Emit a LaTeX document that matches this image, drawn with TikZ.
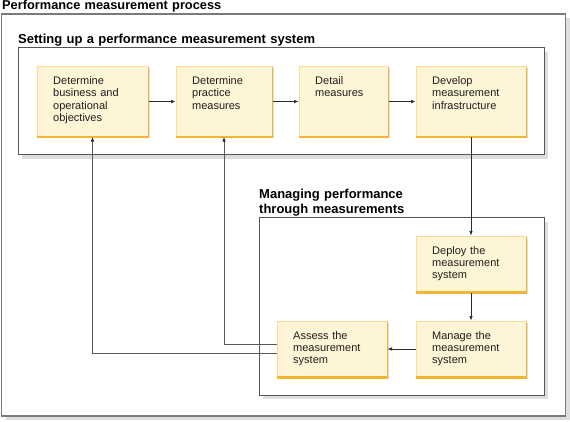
\documentclass[tikz,border=0pt]{standalone}
\usepackage{fontspec}
\setmainfont{Liberation Sans}
\usetikzlibrary{arrows.meta,shadows}
\definecolor{yfill}{HTML}{FEF4D6}
\definecolor{yedge}{HTML}{FADB92}
\definecolor{ydark}{HTML}{F2B631}
\definecolor{framec}{HTML}{555555}
\definecolor{outerc}{HTML}{7A7A7A}
\definecolor{shade}{HTML}{DDDDDD}
\definecolor{wire}{HTML}{2A2A2A}
\newcommand\ybx[5]{%
  \node[ybox, minimum width=#3, minimum height=#4] (#1) at #2 {};
  \draw[ydark, line width=1.4pt] ([yshift=-1pt]#1.north east) -- (#1.south east);
  \draw[ydark, line width=2.4pt] (#1.south west) -- (#1.south east);
  \node[btext] (#1t) at ([xshift=16.5pt, yshift=-18.5pt]#1.north west) {#5};
}
\begin{document}
\begin{tikzpicture}[x=1pt,y=-1pt,
  frame/.style={draw=framec, line width=1pt, fill=white, inner sep=0pt,
    drop shadow={shadow xshift=4pt, shadow yshift=-4pt, fill=shade, opacity=1}},
  ybox/.style={draw=yedge, fill=yfill, line width=1pt, inner sep=0pt,
    drop shadow={shadow xshift=1.5pt, shadow yshift=-1.5pt, fill=black!13, opacity=1}},
  btext/.style={anchor=base west, text width=100pt, align=left, inner sep=0pt,
    text=black!88, font=\fontsize{11}{12.3}\selectfont},
  ttl/.style={anchor=base west, inner sep=0pt, align=left, text width=320pt,
    font=\bfseries\fontsize{13}{15}\selectfont},
  conn/.style={draw=wire, line width=0.7pt, -{Latex[length=4.5pt,width=3.6pt]}},
  fb/.style={draw=black!65, line width=0.7pt, -{Latex[length=4.5pt,width=3.6pt,color=wire]}}
]
\useasboundingbox (0,0) rectangle (570,421);
% frames
\node[frame, draw=outerc, line width=1.4pt, minimum width=564pt, minimum height=402pt] (outer) at (283.5,215) {};
\node[frame, minimum width=526pt, minimum height=107pt] (setup) at (281,101) {};
\node[frame, minimum width=285pt, minimum height=177.5pt] (mng) at (401.5,306.25) {};
% titles
\node[ttl, font=\bfseries\fontsize{12.8}{15}\selectfont] (tmain) at (2,9.8) {Performance measurement process};
\node[ttl] (tsetup) at (18,43) {Setting up a performance measurement system};
\node[ttl] (tmng) at (259,198) {Managing performance\\through measurements};
% boxes
\ybx{b1}{(92.5,101.5)}{111pt}{70pt}{Determine\\business and\\operational\\objectives}
\ybx{b2}{(224,101.5)}{96pt}{70pt}{Determine\\practice\\measures}
\ybx{b3}{(343.5,101.5)}{89pt}{70pt}{Detail\\measures}
\ybx{b4}{(471,101.5)}{110pt}{70pt}{Develop\\measurement\\infrastructure}
\ybx{b5}{(471,264)}{110pt}{56pt}{Deploy the\\measurement\\system}
\ybx{b6}{(471,349)}{110pt}{56pt}{Manage the\\measurement\\system}
\ybx{b7}{(332,349)}{110pt}{56pt}{Assess the\\measurement\\system}
% connectors
\draw[conn] (b1) -- (b2);
\draw[conn] (b2) -- (b3);
\draw[conn] (b3) -- (b4);
\draw[conn] (b4) -- (b5);
\draw[conn] (b5) -- (b6);
\draw[conn] (b6) -- (b7);
\draw[fb] ([yshift=5pt]b7.west) -| (b2.south);
\draw[fb] ([yshift=-4pt]b7.west) -| (b1.south);
\end{tikzpicture}
\end{document}
